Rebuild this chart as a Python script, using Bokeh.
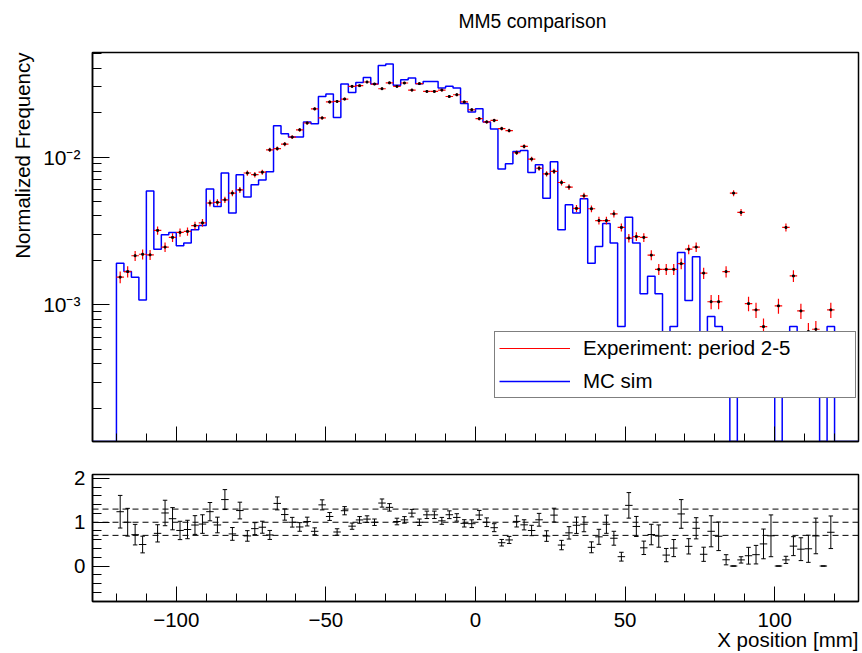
import numpy as np
from bokeh.plotting import figure
from bokeh.layouts import column
from bokeh.models import (Range1d, FixedTicker, CustomJSTickFormatter, Title,
                          Legend, LegendItem, Span)
from bokeh.embed import file_html
from bokeh.resources import INLINE

# ---------------- data ----------------
BIN_LOW, BIN_HIGH, N_BINS = -120.0, 120.0, 96
AXIS_X = (-128.0, 128.0)

exp_values = [
    1.54e-3, 1.68e-3, 2.15e-3, 2.20e-3, 2.18e-3, 3.19e-3, 2.46e-3, 2.86e-3, 3.09e-3, 3.14e-3,
    3.44e-3, 3.59e-3, 4.89e-3, 4.94e-3, 5.14e-3, 5.70e-3, 6.00e-3, 7.80e-3, 7.60e-3, 7.90e-3,
    1.12e-2, 1.14e-2, 1.225e-2, 1.365e-2, 1.53e-2, 1.70e-2, 2.12e-2, 1.84e-2, 2.36e-2, 2.38e-2,
    2.47e-2, 3.01e-2, 3.04e-2, 3.22e-2, 3.12e-2, 2.90e-2, 3.18e-2, 3.01e-2, 3.17e-2, 2.84e-2,
    3.14e-2, 2.78e-2, 2.78e-2, 2.84e-2, 2.57e-2, 2.64e-2, 2.36e-2, 2.09e-2, 1.82e-2, 1.73e-2,
    1.77e-2, 1.56e-2, 1.51e-2, 1.07e-2, 1.18e-2, 9.70e-3, 8.40e-3, 7.70e-3, 8.00e-3, 6.73e-3,
    6.27e-3, 4.49e-3, 5.47e-3, 4.47e-3, 3.72e-3, 3.72e-3, 4.13e-3, 3.34e-3, 2.83e-3, 2.90e-3,
    2.86e-3, 2.17e-3, 1.74e-3, 1.74e-3, 1.74e-3, 1.90e-3, 2.38e-3, 2.46e-3, 1.64e-3, 1.05e-3,
    1.05e-3, 1.68e-3, 5.70e-3, 4.22e-3, 1.02e-3, 9.25e-4, 7.13e-4, 5.00e-4, 9.85e-4, 3.34e-3,
    1.57e-3, 9.10e-4, 6.60e-4, 6.84e-4, 4.50e-4, 9.25e-4,
]

mc_values = [
    1.91e-3, 1.68e-3, 1.54e-3, 1.08e-3, 5.90e-3, 2.38e-3, 2.98e-3, 3.09e-3, 2.51e-3, 2.62e-3,
    3.22e-3, 3.44e-3, 6.07e-3, 4.63e-3, 7.80e-3, 4.18e-3, 7.60e-3, 5.36e-3, 6.49e-3, 7.00e-3,
    7.95e-3, 1.63e-2, 1.44e-2, 1.365e-2, 1.365e-2, 1.726e-2, 1.68e-2, 2.57e-2, 2.67e-2, 1.85e-2,
    3.12e-2, 2.74e-2, 3.20e-2, 3.45e-2, 3.12e-2, 4.17e-2, 4.26e-2, 3.06e-2, 3.34e-2, 3.43e-2,
    3.14e-2, 3.25e-2, 3.25e-2, 2.93e-2, 3.01e-2, 2.93e-2, 2.30e-2, 2.02e-2, 2.12e-2, 1.73e-2,
    1.55e-2, 8.30e-3, 9.00e-3, 1.09e-2, 1.11e-2, 7.87e-3, 8.87e-3, 5.27e-3, 9.30e-3, 3.22e-3,
    4.75e-3, 4.18e-3, 5.22e-3, 1.91e-3, 2.48e-3, 3.55e-3, 2.62e-3, 7.13e-4, 3.92e-3, 2.62e-3,
    1.19e-3, 1.56e-3, 1.19e-3, 4.35e-4, 7.13e-4, 2.26e-3, 1.07e-3, 2.12e-3, 4.40e-4, 8.33e-4,
    7.13e-4, 2.40e-4, 0.0, 5.90e-4, 2.40e-4, 2.40e-4, 3.60e-4, 3.45e-4, 0.0, 4.70e-4,
    7.13e-4, 3.50e-4, 2.60e-4, 4.70e-4, 0.0, 7.13e-4,
]

# weight of one entry (normalised units) -> statistical errors
W_EXP = 1.3e-5
W_MC = 1.56e-4

series_labels = ["Experiment: period 2-5", "MC sim"]
x_major_ticks = [-100, -50, 0, 50, 100]
title_text = "MM5 comparison"
ytitle_top = "Normalized Frequency"
xtitle = "X position [mm]"

# ---------------- geometry / style ----------------
FONT = "Liberation Sans"
TXT = "20.5px"
W = 862
HEAD_H = 50
TOP_H = 455 - HEAD_H
BOT_H = 653 - 455
LEFT, RIGHT = 92, 858
TOP_FT, TOP_FB = 52 - HEAD_H, 441 - HEAD_H
BOT_FT, BOT_FB = 474 - 455, 601 - 455
Y_LOW, Y_HIGH = 1.19e-4, 0.051
R_LOW, R_HIGH = -0.81, 2.09

edges = np.linspace(BIN_LOW, BIN_HIGH, N_BINS + 1)
centers = 0.5 * (edges[:-1] + edges[1:])
half = 0.5 * (edges[1] - edges[0])
exp = np.array(exp_values)
mc = np.array(mc_values)

x_minor = list(range(-120, 121, 10))


def style_common(p):
    p.xgrid.visible = False
    p.ygrid.visible = False
    p.outline_line_color = "black"
    p.outline_line_width = 1.5
    p.background_fill_color = "white"
    p.border_fill_color = "white"
    for ax in (p.xaxis[0], p.yaxis[0]):
        ax.axis_line_color = "black"
        ax.axis_line_width = 1.5
        ax.major_tick_line_color = "black"
        ax.minor_tick_line_color = "black"
        ax.major_tick_out = 0
        ax.minor_tick_out = 0
        ax.major_label_text_font = FONT
        ax.major_label_text_color = "black"
        ax.major_label_text_font_size = TXT
    p.xaxis.major_tick_in = 15
    p.xaxis.minor_tick_in = 8
    p.yaxis.major_tick_in = 17
    p.yaxis.minor_tick_in = 9
    p.xaxis.ticker = FixedTicker(ticks=x_major_ticks, minor_ticks=x_minor)


def make_title(text, size, align, offset, standoff):
    return Title(text=text, align=align, offset=offset, standoff=standoff,
                 text_font=FONT, text_font_size=size, text_font_style="normal",
                 text_color="black")


# ---------------- header (canvas title) ----------------
head = figure(width=W, height=HEAD_H, x_range=Range1d(*AXIS_X), y_range=Range1d(0, 1),
              output_backend="svg", toolbar_location=None,
              x_axis_location=None, y_axis_location=None,
              min_border_left=LEFT, min_border_right=W - RIGHT,
              min_border_top=0, min_border_bottom=0)
head.xgrid.visible = False
head.ygrid.visible = False
head.outline_line_color = None
head.border_fill_color = "white"
head.title = make_title(title_text, "19.3px", "left", 366, 16)

# ---------------- top panel ----------------
top = figure(width=W, height=TOP_H, x_range=head.x_range,
             y_range=Range1d(Y_LOW, Y_HIGH), y_axis_type="log",
             output_backend="svg", toolbar_location=None,
             min_border_left=LEFT, min_border_right=W - RIGHT,
             min_border_top=TOP_FT, min_border_bottom=TOP_H - TOP_FB)
style_common(top)
top.xaxis.formatter = CustomJSTickFormatter(code="return '';")
top.xaxis.major_label_text_font_size = "8px"
top.xaxis.major_label_standoff = 0
top.yaxis.ticker = FixedTicker(
    ticks=[1e-3, 1e-2],
    minor_ticks=[m * 10.0 ** e for e in (-4, -3, -2) for m in range(2, 10)])
top.yaxis.formatter = CustomJSTickFormatter(code="""
const e = Math.round(Math.log10(tick));
const sup = {'-':'\\u207b','0':'\\u2070','1':'\\u00b9','2':'\\u00b2','3':'\\u00b3',
             '4':'\\u2074','5':'\\u2075','6':'\\u2076','7':'\\u2077','8':'\\u2078','9':'\\u2079'};
return '10' + String(e).split('').map(c => sup[c]).join('');
""")
top.yaxis.major_label_text_font_size = "21px"
top.yaxis.major_label_standoff = 12

# MC histogram as a step line
mc_draw = np.where(mc > 0, mc, Y_LOW)
step_x = np.concatenate([[AXIS_X[0], edges[0]], np.repeat(edges, 2)[1:-1], [edges[-1], AXIS_X[1]]])
step_y = np.concatenate([[Y_LOW, Y_LOW], np.repeat(mc_draw, 2), [Y_LOW, Y_LOW]])
mc_line = top.line(step_x, step_y, line_color="#0000ff", line_width=1.5)

# experiment points with errors
exp_err = np.sqrt(W_EXP * exp)
exp_h = top.segment(centers - half, exp, centers + half, exp, line_color="#ff0000", line_width=1.2)
top.segment(centers, exp - exp_err, centers, exp + exp_err, line_color="#ff0000", line_width=1.2)
top.scatter(centers, exp, marker="square", size=1.8, color="black")

legend = Legend(items=[LegendItem(label=series_labels[0], renderers=[exp_h], index=0),
                       LegendItem(label=series_labels[1], renderers=[mc_line])],
                location=(494 - LEFT, TOP_FB - (398 - HEAD_H)), orientation="vertical",
                padding=4, spacing=9, margin=0,
                glyph_width=71, glyph_height=20, label_height=20,
                label_standoff=13, label_width=268,
                label_text_font=FONT, label_text_font_size=TXT, label_text_color="black",
                border_line_color="black", border_line_width=1.5,
                background_fill_color="white", background_fill_alpha=1.0)
top.add_layout(legend)

top.add_layout(make_title(ytitle_top, TXT, "right", 0, 14), "left")

# ---------------- ratio panel ----------------
bot = figure(width=W, height=BOT_H, x_range=head.x_range,
             y_range=Range1d(R_LOW, R_HIGH),
             output_backend="svg", toolbar_location=None,
             min_border_left=LEFT, min_border_right=W - RIGHT,
             min_border_top=BOT_FT, min_border_bottom=BOT_H - BOT_FB)
style_common(bot)
bot.xaxis.formatter = CustomJSTickFormatter(
    code="return tick < 0 ? '\\u2212' + Math.abs(tick) : tick.toString();")
bot.xaxis.major_label_standoff = 11
bot.yaxis.ticker = FixedTicker(ticks=[0, 1, 2],
                               minor_ticks=[round(v, 1) for v in np.arange(-0.8, 2.01, 0.2)])
bot.yaxis.major_label_standoff = 7

for lvl in (0.7, 1.0, 1.3):
    bot.add_layout(Span(location=lvl, dimension="width", line_color="black",
                        line_width=1, line_dash="6 4"))

safe_mc = np.where(mc > 0, mc, 1.0)
ratio = mc / exp
ratio_err = np.where(mc > 0, ratio * np.sqrt(W_MC / safe_mc + W_EXP / exp), 0.0)
cap = 0.75
bot.segment(centers - half, ratio, centers + half, ratio, line_color="black", line_width=1)
bot.segment(centers, ratio - ratio_err, centers, ratio + ratio_err, line_color="black", line_width=1)
bot.segment(centers - cap, ratio + ratio_err, centers + cap, ratio + ratio_err, line_color="black", line_width=1)
bot.segment(centers - cap, ratio - ratio_err, centers + cap, ratio - ratio_err, line_color="black", line_width=1)

bot.add_layout(make_title(xtitle, TXT, "right", 0, -7), "below")

layout = column(head, top, bot, spacing=0)
open("out.html", "w").write(file_html(layout, INLINE))
